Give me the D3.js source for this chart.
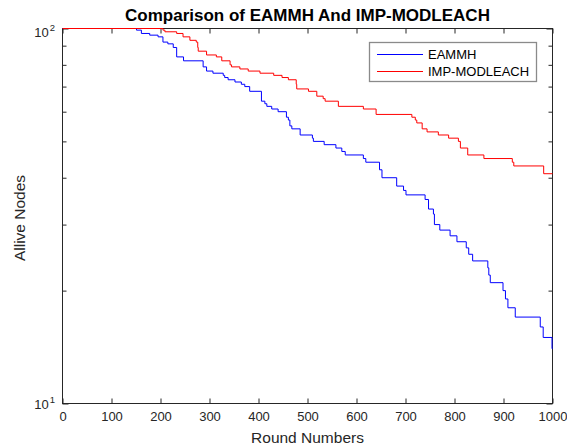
<!DOCTYPE html>
<html><head><meta charset="utf-8">
<script src="https://cdn.jsdelivr.net/npm/d3@7/dist/d3.min.js"></script>
<style>
body{margin:0;background:#fff}
svg{display:block}
text{font-family:"Liberation Sans",Arial,Helvetica,sans-serif}
</style>
</head><body>
<svg id="c" width="567" height="448"></svg>
<script>
const titleText = "Comparison of EAMMH And IMP-MODLEACH";
const xLabelText = "Round Numbers";
const yLabelText = "Allive Nodes";
const seriesNames = ["EAMMH", "IMP-MODLEACH"];
const seriesColors = ["#0000ff", "#ff0000"];
const xTicks = [0,100,200,300,400,500,600,700,800,900,1000];
const yMajorTicks = [10,100];
const yMinorTicks = [20,30,40,50,60,70,80,90];

const eammhRounds = [0,151,161,178,195,205,215,226,233,247,
  287,294,307,328,331,338,352,365,372,382,
  406,413,417,427,440,457,461,464,468,485,
  510,512,534,558,570,577,614,619,647,652,
  682,696,701,740,747,757,759,770,791,805,
  824,829,837,868,870,873,899,904,909,924,
  975,981,999,1000];
const eammhNodes = [100,99,97,96,95,92,91,89,84,82,
  79,77,76,75,74,73,72,71,70,68,
  64,63,62,61,60,58,57,55,54,52,
  51,50,49,48,47,46,45,44,42,40,
  38,37,36,35,33,32,30,29,28,27,
  26,25,24,23,22,21,20,19,18,17,
  16,15,14,14];

const impRounds = [0,205,209,233,246,260,273,276,277,294,
  314,325,342,345,362,379,403,431,448,461,
  477,478,502,519,532,536,563,614,640,713,
  720,723,734,744,767,788,808,812,827,860,
  918,921,982,1000];
const impNodes = [100,99,98,97,95,93,92,89,87,85,
  84,82,80,79,78,77,76,75,74,73,
  71,69,68,66,65,64,62,61,59,58,
  57,56,54,53,52,51,50,48,46,45,
  44,43,41,41];

const ink = "#262626";
const svg = d3.select("#c");
const x = d3.scaleLinear().domain([0,1000]).range([62.5,552.5]);
const y = d3.scaleLog().domain([10,100]).range([403.5,28.5]);

function styleAxis(g){
  g.select(".domain").remove();
  g.selectAll(".tick line").attr("stroke", ink);
  g.selectAll(".tick text").attr("fill", ink).attr("font-size", 13)
    .attr("font-family", '"Liberation Sans",Arial,sans-serif');
}

// box (drawn first so the data lines lie on top of it)
svg.append("rect").attr("x", x(0)).attr("y", y(100))
  .attr("width", x(1000) - x(0)).attr("height", y(10) - y(100))
  .attr("fill", "none").attr("stroke", ink).attr("stroke-width", 1);

// bottom axis with labels
svg.append("g").attr("transform", `translate(0,${y(10)})`)
  .call(d3.axisBottom(x).tickValues(xTicks).tickSizeInner(-5).tickSizeOuter(0).tickPadding(8).tickFormat(d3.format("d")))
  .call(styleAxis);
// top axis
svg.append("g").attr("transform", `translate(0,${y(100)})`)
  .call(d3.axisTop(x).tickValues(xTicks).tickSizeInner(-5).tickSizeOuter(0).tickFormat(""))
  .call(styleAxis);
// left axis minor + major
svg.append("g").attr("transform", `translate(${x(0)},0)`)
  .call(d3.axisLeft(y).tickValues(yMinorTicks).tickSizeInner(-4).tickSizeOuter(0).tickFormat(""))
  .call(styleAxis);
svg.append("g").attr("transform", `translate(${x(0)},0)`)
  .call(d3.axisLeft(y).tickValues(yMajorTicks).tickSizeInner(-6).tickSizeOuter(0).tickFormat(""))
  .call(styleAxis);
// right axis
svg.append("g").attr("transform", `translate(${x(1000)},0)`)
  .call(d3.axisRight(y).tickValues(yMinorTicks).tickSizeInner(-4).tickSizeOuter(0).tickFormat(""))
  .call(styleAxis);
svg.append("g").attr("transform", `translate(${x(1000)},0)`)
  .call(d3.axisRight(y).tickValues(yMajorTicks).tickSizeInner(-6).tickSizeOuter(0).tickFormat(""))
  .call(styleAxis);

// y tick labels 10^n
yMajorTicks.forEach(v => {
  const e = Math.round(Math.log10(v));
  const baseY = v === 100 ? y(v) + 8 : y(v) + 5.5;
  const t = svg.append("text").attr("x", 55).attr("y", baseY)
    .attr("text-anchor", "end").attr("fill", ink).attr("font-size", 13);
  t.append("tspan").text("10");
  t.append("tspan").attr("dy", -6).attr("font-size", 9.5).attr("dx", 1).text(String(e));
});

// lines
const line = d3.line().x(d => x(d[0])).y(d => y(d[1])).curve(d3.curveStepAfter);
const series = [
  d3.zip(eammhRounds, eammhNodes),
  d3.zip(impRounds, impNodes)
];
series.forEach((s, i) => {
  svg.append("path").datum(s).attr("d", line)
    .attr("fill", "none").attr("stroke", seriesColors[i]).attr("stroke-width", 1);
});

// legend
const lg = svg.append("g");
lg.append("rect").attr("x", 369.5).attr("y", 42.5).attr("width", 167).attr("height", 39)
  .attr("fill", "#fff").attr("stroke", "#8a8a8a").attr("stroke-width", 1.3);
seriesNames.forEach((n, i) => {
  const ly = 54.5 + i * 17;
  lg.append("line").attr("x1", 377).attr("x2", 423).attr("y1", ly).attr("y2", ly)
    .attr("stroke", seriesColors[i]).attr("stroke-width", 1);
  lg.append("text").attr("x", 428).attr("y", ly + 4.7).attr("fill", "#000")
    .attr("font-size", 13).text(n);
});

// title and labels
svg.append("text").attr("x", 307.5).attr("y", 21).attr("text-anchor", "middle")
  .attr("font-weight", "bold").attr("font-size", 17).attr("fill", "#000").text(titleText);
svg.append("text").attr("x", 307.5).attr("y", 443).attr("text-anchor", "middle")
  .attr("font-size", 15.5).attr("fill", ink).text(xLabelText);
svg.append("text").attr("transform", "translate(25,218) rotate(-90)").attr("text-anchor", "middle")
  .attr("font-size", 15.5).attr("fill", ink).text(yLabelText);
</script>
</body></html>
